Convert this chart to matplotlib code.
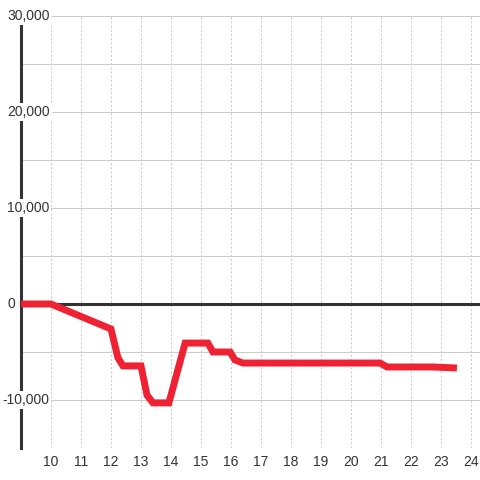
import matplotlib
matplotlib.use("Agg")
from matplotlib import pyplot as plt
from matplotlib import transforms

plt.rcParams['font.family'] = ['Liberation Sans', 'DejaVu Sans']

hours = [9, 10, 12, 12.23, 12.4, 13, 13.2, 13.4, 13.93, 14.47, 15.23, 15.4,
         15.97, 16.13, 16.4, 20.97, 21.2, 22.73, 23.53]
values = [0, 0, -2600, -5600, -6450, -6450, -9500, -10300, -10300, -4070, -4070, -5000,
          -5000, -5830, -6150, -6150, -6560, -6560, -6670]

x_ticks = list(range(10, 25))
y_grid = [-15000, -10000, -5000, 0, 5000, 10000, 15000, 20000, 25000, 30000]
y_labels = [-10000, 0, 10000, 20000, 30000]

fig = plt.figure(figsize=(4.8, 4.8), dpi=100)
ax = fig.add_axes([21/480, 32/480, 459/480, 432/480])
ax.set_xlim(9, 24.3)
ax.set_ylim(-15000, 30000)

for yv in y_grid:
	ax.axhline(yv, color='#cccccc', lw=0.75, zorder=1)
for xv in x_ticks:
	ax.axvline(xv, color='#cccccc', lw=0.75, dashes=(2, 2), zorder=1)

ax.axhline(0, color='#333333', lw=2.2, zorder=2)
ax.plot(hours, values, color='#ee2233', lw=5, solid_joinstyle='miter',
	solid_capstyle='butt', zorder=3)

for s in ['top', 'right', 'bottom']:
	ax.spines[s].set_visible(False)
ax.spines['left'].set_color('#333333')
ax.spines['left'].set_linewidth(2.2)
ax.spines['left'].set_zorder(2)

ax.set_xticks(x_ticks)
ax.set_xticklabels([str(t) for t in x_ticks], fontsize=10, color='#333333')
ax.tick_params(axis='x', length=0, pad=5)
ax.set_yticks([])

trans = transforms.blended_transform_factory(fig.transFigure, ax.transData)
for yv in y_labels:
	ax.text(7/480 if yv >= 0 else 2/480, yv, f"{yv:,}".replace('-', '-'), transform=trans,
		ha='left', va='center', fontsize=10, color='#333333', zorder=5,
		bbox=dict(facecolor='white', edgecolor='none', pad=1.5))

fig.savefig('out.png', dpi=100)
